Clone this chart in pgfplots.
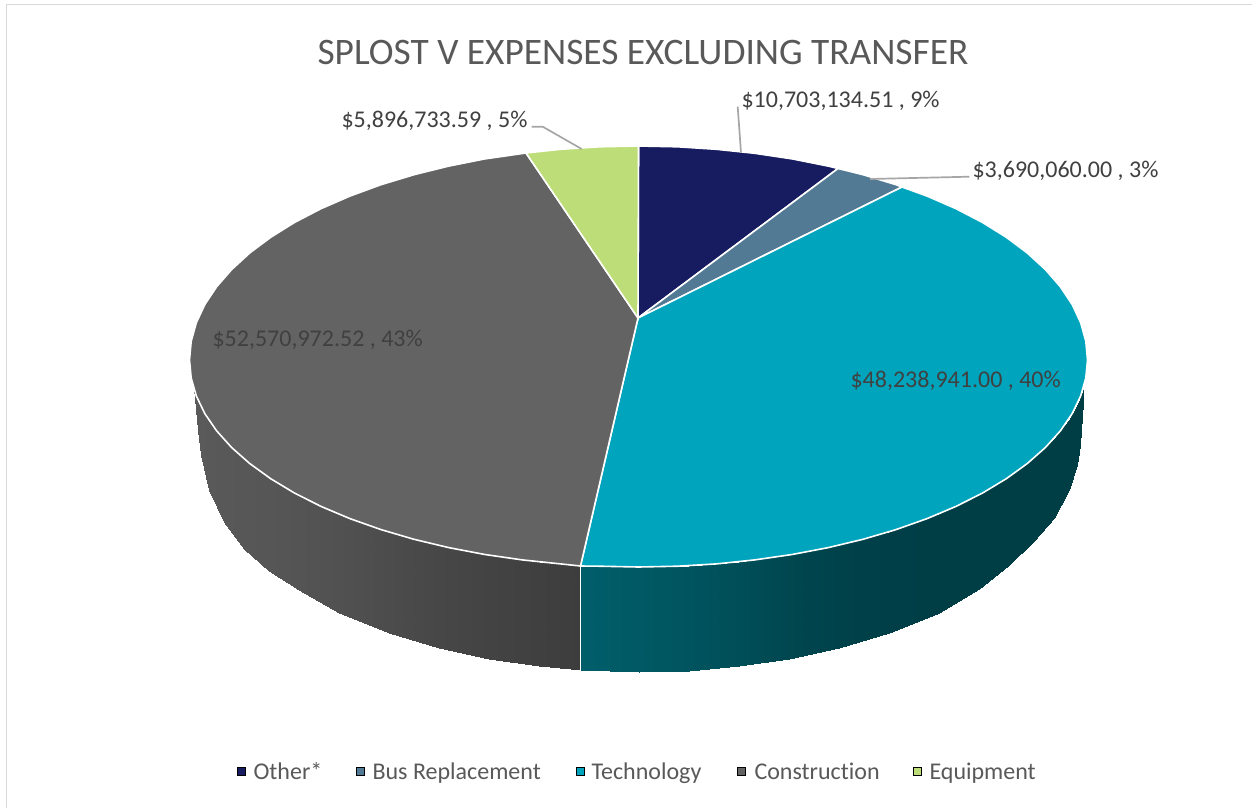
\documentclass[border=0pt]{standalone}
\usepackage{fontspec}
\usepackage{pgfplots}
\pgfplotsset{compat=1.18}
\setmainfont{Carlito}[Ligatures=CommonOff]
\definecolor{navy}{RGB}{23,28,96}
\definecolor{busblue}{RGB}{82,122,148}
\definecolor{techteal}{RGB}{0,165,189}
\definecolor{constgray}{RGB}{99,99,99}
\definecolor{equipgreen}{RGB}{189,221,120}
\definecolor{titlegray}{RGB}{89,89,89}
\definecolor{labelgray}{RGB}{64,64,64}
\definecolor{leader}{RGB}{166,166,166}
\definecolor{frame}{RGB}{217,217,217}
\begin{document}
\begin{tikzpicture}
\begin{axis}[
  scale only axis,width=1252pt,height=808pt,
  xmin=0,xmax=1252,ymin=0,ymax=808,y dir=reverse,
  hide axis,
  colormap={side}{rgb255(0pt)=(60,60,60) rgb255(32pt)=(92,92,92) rgb255(40pt)=(0,62,70) rgb255(74pt)=(0,96,108)},
  point meta min=0,point meta max=74,
]
% page
\addplot[fill=white,draw=none] coordinates {(0,0)(1252,0)(1252,808)(0,808)} --cycle;
\addplot[frame,line width=1.5pt] coordinates {(6.5,808)(6.5,4.5)(1252,4.5)};

% side wall, construction
\addplot[surf,shader=interp,mesh/rows=2,point meta=explicit] coordinates {
 (193.5,387.6)[30] (197.5,398.9)[30] (200.5,405.5)[30] (208.5,419.6)[29] (223.5,439)[28] (243.5,458.4)[27] (268.5,477.3)[26] (298.5,495.2)[24] (338.5,514)[21] (388.5,531.9)[16] (438.5,545.3)[11] (488.5,555.1)[7] (538.5,561.8)[4] (580.5,566)[1]
 (193.5,387.6)[30] (197.5,430)[30] (200.5,455)[30] (208.5,490)[29] (223.5,522)[28] (243.5,548.7)[27] (268.5,570.8)[26] (298.5,590)[24] (338.5,612.7)[21] (388.5,632.9)[16] (438.5,647.9)[11] (488.5,658.8)[7] (538.5,666.2)[4] (580.5,670)[1]
};
% side wall, technology
\addplot[surf,shader=interp,mesh/rows=2,point meta=explicit] coordinates {
 (580.5,566)[72] (638.5,567)[67] (688.5,565.7)[62] (738.5,561.8)[56] (788.5,555.1)[49] (838.5,545.3)[44] (888.5,531.9)[41] (938.5,514)[40] (978.5,495.2)[40] (1008.5,477.3)[40] (1033.5,458.4)[40] (1053.5,439)[40] (1068.5,419.6)[40] (1076.5,405.5)[40] (1079.5,398.9)[40] (1083.5,387.6)[40]
 (580.5,670)[72] (638.5,672)[67] (688.5,670.6)[62] (738.5,666.2)[56] (788.5,658.8)[49] (838.5,647.9)[44] (888.5,632.9)[41] (938.5,612.7)[40] (978.5,589)[40] (1008.5,565)[40] (1033.5,541)[40] (1053.5,518)[40] (1068.5,490)[40] (1076.5,465)[40] (1079.5,445)[40] (1083.5,387.6)[40]
};
\addplot[white,line width=1.6pt] coordinates {(580.5,566)(580.5,672)};

% top face
\addplot[fill=navy,draw=white,line width=1.6pt] coordinates {
 (638,318)(638.5,146)(677.7,146.8)(716.4,149.3)(754.7,153.3)(792.1,158.9)(828.3,166.1)(838,168.5)} --cycle;
\addplot[fill=busblue,draw=white,line width=1.6pt] coordinates {
 (638,318)(838,168.5)(863,174.7)(896,184.7)(902,187)} --cycle;
\addplot[fill=techteal,draw=white,line width=1.6pt] coordinates {
 (638,318)(902,187)(927.1,196.1)(956,208.7)(982.4,222.4)(1006.3,237.3)(1027.3,253)(1045.4,269.6)(1060.4,286.8)(1072.2,304.6)(1080.7,322.8)(1085.8,341.3)(1087.5,360)
 (1085.8,378)(1080.7,395.9)(1072.2,413.6)(1060.4,430.8)(1045.4,447.5)(1027.3,463.5)(1006.3,478.7)(982.4,493.1)(956,506.4)(927.1,518.6)(896,529.6)(863,539.3)(828.3,547.6)(792.1,554.5)(754.7,559.9)(716.4,563.9)(677.7,566.2)(638.5,567)(599.3,566.2)(580.5,566)} --cycle;
\addplot[fill=constgray,draw=white,line width=1.6pt] coordinates {
 (638,318)(580.5,566)(560.6,563.9)(522.3,559.9)(484.9,554.5)(448.7,547.6)(414,539.3)(381,529.6)(349.9,518.6)(321,506.4)(294.6,493.1)(270.7,478.7)(249.7,463.5)(231.6,447.5)(216.6,430.8)(204.8,413.6)(196.3,395.9)(191.2,378)(189.5,360)
 (191.2,341.3)(196.3,322.8)(204.8,304.6)(216.6,286.8)(231.6,269.6)(249.7,253)(270.7,237.3)(294.6,222.4)(321,208.7)(349.9,196.1)(381,184.7)(414,174.7)(448.7,166.1)(484.9,158.9)(526,153)} --cycle;
\addplot[fill=equipgreen,draw=white,line width=1.6pt] coordinates {
 (638,318)(526,153)(560.6,149.3)(599.3,146.8)(638.5,146)} --cycle;

% leader lines
\addplot[leader,line width=1.7pt] coordinates {(531.7,126.7)(542.7,126.7)(581.7,149)};
\addplot[leader,line width=1.7pt] coordinates {(737.7,106.7)(741,152.7)};
\addplot[leader,line width=1.7pt] coordinates {(969.3,176.7)(870,179)};

% legend keys
\addplot[only marks,mark=square*,mark size=4pt,mark options={draw=none,fill=navy}] coordinates {(241.5,771.5)};
\addplot[only marks,mark=square*,mark size=4pt,mark options={draw=none,fill=busblue}] coordinates {(360.5,771.5)};
\addplot[only marks,mark=square*,mark size=4pt,mark options={draw=none,fill=techteal}] coordinates {(580,771.5)};
\addplot[only marks,mark=square*,mark size=4pt,mark options={draw=none,fill=constgray}] coordinates {(741.5,771.5)};
\addplot[only marks,mark=square*,mark size=4pt,mark options={draw=none,fill=equipgreen}] coordinates {(917.5,771.5)};

\node[text=titlegray,anchor=base] at (axis cs:643,65) {\fontsize{37.4}{42}\selectfont SPLOST V EXPENSES EXCLUDING TRANSFER};
\node[text=labelgray,anchor=base west] at (axis cs:738,107) {\fontsize{24}{28}\selectfont \$10,703,134.51 , 9\%};
\node[text=labelgray,anchor=base west] at (axis cs:969,177) {\fontsize{24}{28}\selectfont \$3,690,060.00 , 3\%};
\node[text=labelgray,anchor=base west] at (axis cs:338,127) {\fontsize{24}{28}\selectfont \$5,896,733.59 , 5\%};
\node[text=labelgray,anchor=base west] at (axis cs:209,346) {\fontsize{24}{28}\selectfont \$52,570,972.52 , 43\%};
\node[text=labelgray,anchor=base west] at (axis cs:847,387) {\fontsize{24}{28}\selectfont \$48,238,941.00 , 40\%};
\node[text=titlegray,anchor=base west] at (axis cs:250,779) {\fontsize{24}{28}\selectfont Other*};
\node[text=titlegray,anchor=base west] at (axis cs:369,779) {\fontsize{24}{28}\selectfont Bus Replacement};
\node[text=titlegray,anchor=base west] at (axis cs:588,779) {\fontsize{24}{28}\selectfont Technology};
\node[text=titlegray,anchor=base west] at (axis cs:751,779) {\fontsize{24}{28}\selectfont Construction};
\node[text=titlegray,anchor=base west] at (axis cs:926,779) {\fontsize{24}{28}\selectfont Equipment};
\end{axis}
\end{tikzpicture}
\end{document}
